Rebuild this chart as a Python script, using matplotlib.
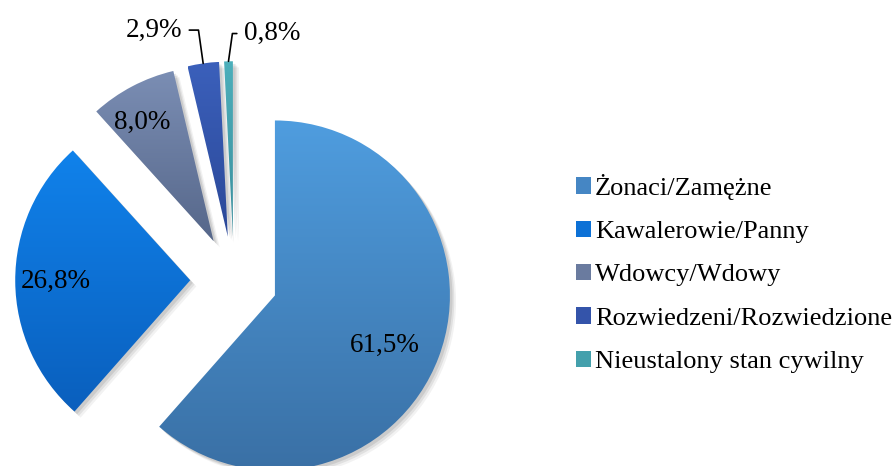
import numpy as np
import matplotlib.pyplot as plt
from matplotlib.colors import LinearSegmentedColormap
from matplotlib.patches import Patch, Wedge

plt.rcParams['font.family'] = ['Liberation Serif', 'DejaVu Serif']

# dane
categories = ['Żonaci/Zamężne', 'Kawalerowie/Panny', 'Wdowcy/Wdowy',
              'Rozwiedzeni/Rozwiedzione', 'Nieustalony stan cywilny']
shares = [61.5, 26.8, 8.0, 2.9, 0.8]
labels = ['61,5%', '26,8%', '8,0%', '2,9%', '0,8%']

# kolory gradientu (góra / dół)
top_colors = ['#4f9ddf', '#1082eb', '#7b8eb4', '#3b60bb', '#4cafbb']
bottom_colors = ['#3a70a5', '#0a5fbd', '#56678a', '#2b4898', '#3c8e9c']
mid_colors = ['#4586c4', '#0d71d6', '#6a7b9f', '#3454aa', '#44a0ac']

fig = plt.figure(figsize=(8.95, 4.66), dpi=100)
ax = fig.add_axes([0, 0, 1, 1])

wedges, _ = ax.pie(shares, explode=[0.25] * len(shares), startangle=90,
                   counterclock=False, radius=1, wedgeprops=dict(linewidth=0))

grad = np.linspace(0, 1, 256).reshape(-1, 1)
for w, c1, c2 in zip(wedges, top_colors, bottom_colors):
    # cień
    for k, a in [(0.035, 0.05), (0.025, 0.07), (0.015, 0.09)]:
        ax.add_patch(Wedge((w.center[0] + k, w.center[1] - k), w.r, w.theta1, w.theta2,
                           facecolor='black', alpha=a, lw=0, zorder=1.5))
    ext = w.get_path().get_extents()
    cmap = LinearSegmentedColormap.from_list('g', [c2, c1])
    im = ax.imshow(grad, extent=[ext.x0, ext.x1, ext.y0, ext.y1], origin='lower',
                   cmap=cmap, aspect='auto', zorder=2)
    im.set_clip_path(w)
    w.set_facecolor('none')

# etykiety wewnątrz (odległość, przesunięcie kąta)
inner_pos = [(0.69, -3.7), (0.77, 0.0), (0.79, 3.2)]
for w, lab, (d, shift) in zip(wedges[:3], labels[:3], inner_pos):
    ang = np.deg2rad((w.theta1 + w.theta2) / 2 + shift)
    ax.text(w.center[0] + d * np.cos(ang), w.center[1] + d * np.sin(ang), lab,
            ha='center', va='center', fontsize=19.5, zorder=3)

# etykiety z liniami odniesienia
leaders = [(3, (-15, 24), 'right', (1, 0.5), 98),
           (4, (11, 20), 'left', (0, 0.5), 82)]
for i, off, ha, rp, angB in leaders:
    w = wedges[i]
    ang = np.deg2rad((w.theta1 + w.theta2) / 2)
    xy = (w.center[0] + w.r * np.cos(ang), w.center[1] + w.r * np.sin(ang))
    ax.annotate(labels[i], xy=xy, xytext=off, textcoords='offset points',
                ha=ha, va='center', fontsize=19.5, zorder=3,
                arrowprops=dict(arrowstyle='-', color='black', lw=1.2, relpos=rp,
                                shrinkA=3, shrinkB=0,
                                connectionstyle='angle,angleA=0,angleB=%d,rad=0' % angB))

ax.set_xlim(-1.337, 3.777)
ax.set_ylim(-1.063, 1.6)
ax.axis('off')

handles = [Patch(facecolor=c, edgecolor='none') for c in mid_colors]
ax.legend(handles, categories, loc='center left',
          bbox_to_anchor=(576 / 895, 1 - 273.5 / 466), bbox_transform=fig.transFigure,
          frameon=False, fontsize=19, handlelength=0.57, handleheight=0.57,
          handletextpad=0.15, labelspacing=0.79, borderpad=0, borderaxespad=0)

fig.savefig('out.png', dpi=100)
